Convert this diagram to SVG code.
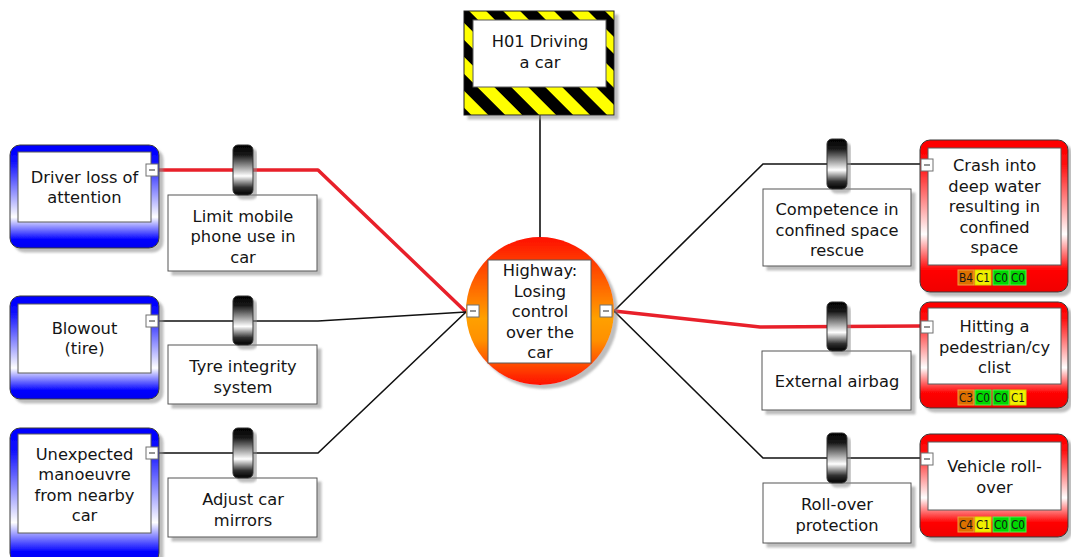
<svg xmlns="http://www.w3.org/2000/svg" width="1071" height="557" viewBox="0 0 1071 557">
<defs>
<linearGradient id="gThreat" x1="0" y1="0" x2="0" y2="1">
<stop offset="0" stop-color="#0000ff"/><stop offset="0.15" stop-color="#0a0aff"/><stop offset="0.7" stop-color="#ffffff"/><stop offset="0.92" stop-color="#0000ff"/><stop offset="1" stop-color="#0000f0"/>
</linearGradient>
<linearGradient id="gCons" x1="0" y1="0" x2="0" y2="1">
<stop offset="0" stop-color="#ff0000"/><stop offset="0.15" stop-color="#ff0a0a"/><stop offset="0.62" stop-color="#ffffff"/><stop offset="0.86" stop-color="#ff0000"/><stop offset="1" stop-color="#f00000"/>
</linearGradient>
<linearGradient id="gTop" x1="0" y1="0" x2="0" y2="1">
<stop offset="0" stop-color="#ff1000"/><stop offset="0.55" stop-color="#ffa000"/><stop offset="0.7" stop-color="#ff9000"/><stop offset="1" stop-color="#ff1000"/>
</linearGradient>
<linearGradient id="gPill" x1="0" y1="0" x2="0" y2="1">
<stop offset="0" stop-color="#000000"/><stop offset="0.2" stop-color="#1a1a1a"/><stop offset="0.62" stop-color="#ffffff"/><stop offset="0.85" stop-color="#303030"/><stop offset="1" stop-color="#000000"/>
</linearGradient>
<pattern id="stripes" patternUnits="userSpaceOnUse" width="24" height="24" patternTransform="rotate(-45)">
<rect x="0" y="0" width="24" height="24" fill="#ffff00"/>
<rect x="0" y="0" width="12" height="24" fill="#000000"/>
</pattern>
<filter id="sh" x="-10%" y="-10%" width="130%" height="130%">
<feDropShadow dx="4" dy="4" stdDeviation="1" flood-color="#888888" flood-opacity="0.55"/>
</filter>
<g id="btn">
<rect x="0" y="0" width="12" height="12" fill="#ffffff" stroke="#707070" stroke-width="1"/>
<line x1="3" y1="6" x2="9" y2="6" stroke="#707070" stroke-width="1.5"/>
</g>
</defs>
<style>
text{font-family:"DejaVu Sans","Verdana",sans-serif;font-size:16.3px;fill:#151515;text-anchor:middle}
.inner{fill:#ffffff;stroke:#5a5a5a;stroke-width:1}
.outer{stroke:#3a3a3a;stroke-width:1}
.bbox{fill:#ffffff;stroke:#555555;stroke-width:1;filter:url(#sh)}
.pill{fill:url(#gPill);stroke:#333333;stroke-width:1;filter:url(#sh)}
.line{fill:none;stroke:#111111;stroke-width:1.6}
.red{fill:none;stroke:#e8202a;stroke-width:3.5;stroke-linejoin:round}
.badge text{font-size:12px}
.bO{fill:#dd7000;stroke:#f0a040}
.bY{fill:#f0f000;stroke:#d8d800}
.bG{fill:#00d800;stroke:#50f050}
</style>
<rect width="1071" height="557" fill="#ffffff"/>

<g id="connectors">
<line class="line" x1="540" y1="115" x2="540" y2="238"/>
<polyline class="red" points="159,170 318,170 466,312"/>
<polyline class="line" points="159,321 318,321 466,312"/>
<polyline class="line" points="159,453 318,453 466,312"/>
<polyline class="line" points="614,311 763,164 920,164"/>
<polyline class="red" points="614,311 760,327 920,326"/>
<polyline class="line" points="614,311 763,458 920,458"/>
</g>

<g id="hazard">
<rect x="464" y="11" width="150" height="104" fill="url(#stripes)" stroke="#222" stroke-width="1" filter="url(#sh)"/>
<rect x="473" y="20" width="133" height="67" class="inner"/>
<text x="540" y="47">H01 Driving</text>
<text x="540" y="68">a car</text>
</g>

<g id="top-event">
<circle cx="540" cy="311" r="74" fill="url(#gTop)" filter="url(#sh)"/>
<rect x="488" y="260" width="103" height="103" class="inner"/>
<text x="540" y="276">Highway:</text>
<text x="540" y="296.5">Losing</text>
<text x="540" y="317">control</text>
<text x="540" y="337.5">over the</text>
<text x="540" y="358">car</text>
<use href="#btn" x="467" y="305"/>
<use href="#btn" x="600" y="305"/>
</g>

<g id="threat-1">
<rect x="10" y="145" width="149" height="103" rx="10" fill="url(#gThreat)" class="outer" filter="url(#sh)"/>
<rect x="18" y="152" width="133" height="70" class="inner"/>
<text x="84.5" y="183">Driver loss of</text>
<text x="84.5" y="203">attention</text>
<use href="#btn" x="146" y="164"/>
</g>

<g id="threat-2">
<rect x="10" y="296" width="149" height="103" rx="10" fill="url(#gThreat)" class="outer" filter="url(#sh)"/>
<rect x="18" y="304" width="133" height="69" class="inner"/>
<text x="84.5" y="333.5">Blowout</text>
<text x="84.5" y="354">(tire)</text>
<use href="#btn" x="146" y="315"/>
</g>

<g id="threat-3">
<rect x="10" y="428" width="149" height="135" rx="10" fill="url(#gThreat)" class="outer" filter="url(#sh)"/>
<rect x="18" y="434" width="133" height="99" class="inner"/>
<text x="84.5" y="459.5">Unexpected</text>
<text x="84.5" y="480">manoeuvre</text>
<text x="84.5" y="500.5">from nearby</text>
<text x="84.5" y="521">car</text>
<use href="#btn" x="146" y="447"/>
</g>

<g id="barrier-limit-phone">
<rect x="168" y="195" width="149" height="76" class="bbox"/>
<rect x="233" y="145" width="20" height="50" rx="5" class="pill"/>
<text x="243" y="221.5">Limit mobile</text>
<text x="243" y="242">phone use in</text>
<text x="243" y="262.5">car</text>
</g>

<g id="barrier-tyre">
<rect x="168" y="345" width="149" height="59" class="bbox"/>
<rect x="233" y="296" width="20" height="49" rx="5" class="pill"/>
<text x="243" y="372">Tyre integrity</text>
<text x="243" y="392.5">system</text>
</g>

<g id="barrier-mirrors">
<rect x="168" y="478" width="149" height="59" class="bbox"/>
<rect x="233" y="428" width="20" height="50" rx="5" class="pill"/>
<text x="243" y="505">Adjust car</text>
<text x="243" y="525.5">mirrors</text>
</g>

<g id="barrier-confined">
<rect x="763" y="189" width="148" height="77" class="bbox"/>
<rect x="827" y="139" width="20" height="50" rx="5" class="pill"/>
<text x="837" y="215">Competence in</text>
<text x="837" y="235.5">confined space</text>
<text x="837" y="256">rescue</text>
</g>

<g id="barrier-airbag">
<rect x="762" y="351" width="149" height="59" class="bbox"/>
<rect x="827" y="302" width="20" height="49" rx="5" class="pill"/>
<text x="837" y="387">External airbag</text>
</g>

<g id="barrier-rollover">
<rect x="763" y="483" width="148" height="60" class="bbox"/>
<rect x="827" y="433" width="20" height="50" rx="5" class="pill"/>
<text x="837" y="510">Roll-over</text>
<text x="837" y="530.5">protection</text>
</g>

<g id="consequence-1">
<rect x="920" y="140" width="148" height="152" rx="10" fill="url(#gCons)" class="outer" filter="url(#sh)"/>
<rect x="928" y="148" width="133" height="117" class="inner"/>
<text x="994.5" y="171">Crash into</text>
<text x="994.5" y="191.5">deep water</text>
<text x="994.5" y="212">resulting in</text>
<text x="994.5" y="232.5">confined</text>
<text x="994.5" y="252.5">space</text>
<use href="#btn" x="921" y="159"/>
<g class="badge">
<rect class="bO" x="958" y="270" width="16" height="15"/><text x="966" y="282" textLength="14" lengthAdjust="spacingAndGlyphs">B4</text>
<rect class="bY" x="975" y="270" width="16" height="15"/><text x="983" y="282" textLength="14" lengthAdjust="spacingAndGlyphs">C1</text>
<rect class="bG" x="993" y="270" width="16" height="15"/><text x="1001" y="282" textLength="14" lengthAdjust="spacingAndGlyphs">C0</text>
<rect class="bG" x="1010" y="270" width="16" height="15"/><text x="1018" y="282" textLength="14" lengthAdjust="spacingAndGlyphs">C0</text>
</g>
</g>

<g id="consequence-2">
<rect x="920" y="302" width="148" height="106" rx="10" fill="url(#gCons)" class="outer" filter="url(#sh)"/>
<rect x="928" y="308" width="133" height="76" class="inner"/>
<text x="994.5" y="332">Hitting a</text>
<text x="994.5" y="352.5">pedestrian/cy</text>
<text x="994.5" y="373">clist</text>
<use href="#btn" x="921" y="321"/>
<g class="badge">
<rect class="bO" x="958" y="390" width="16" height="15"/><text x="966" y="402" textLength="14" lengthAdjust="spacingAndGlyphs">C3</text>
<rect class="bG" x="975" y="390" width="16" height="15"/><text x="983" y="402" textLength="14" lengthAdjust="spacingAndGlyphs">C0</text>
<rect class="bG" x="993" y="390" width="16" height="15"/><text x="1001" y="402" textLength="14" lengthAdjust="spacingAndGlyphs">C0</text>
<rect class="bY" x="1010" y="390" width="16" height="15"/><text x="1018" y="402" textLength="14" lengthAdjust="spacingAndGlyphs">C1</text>
</g>
</g>

<g id="consequence-3">
<rect x="920" y="434" width="148" height="103" rx="10" fill="url(#gCons)" class="outer" filter="url(#sh)"/>
<rect x="928" y="442" width="133" height="68" class="inner"/>
<text x="994.5" y="472">Vehicle roll-</text>
<text x="994.5" y="492.5">over</text>
<use href="#btn" x="921" y="453"/>
<g class="badge">
<rect class="bO" x="958" y="517" width="16" height="15"/><text x="966" y="529" textLength="14" lengthAdjust="spacingAndGlyphs">C4</text>
<rect class="bY" x="975" y="517" width="16" height="15"/><text x="983" y="529" textLength="14" lengthAdjust="spacingAndGlyphs">C1</text>
<rect class="bG" x="993" y="517" width="16" height="15"/><text x="1001" y="529" textLength="14" lengthAdjust="spacingAndGlyphs">C0</text>
<rect class="bG" x="1010" y="517" width="16" height="15"/><text x="1018" y="529" textLength="14" lengthAdjust="spacingAndGlyphs">C0</text>
</g>
</g>
</svg>
